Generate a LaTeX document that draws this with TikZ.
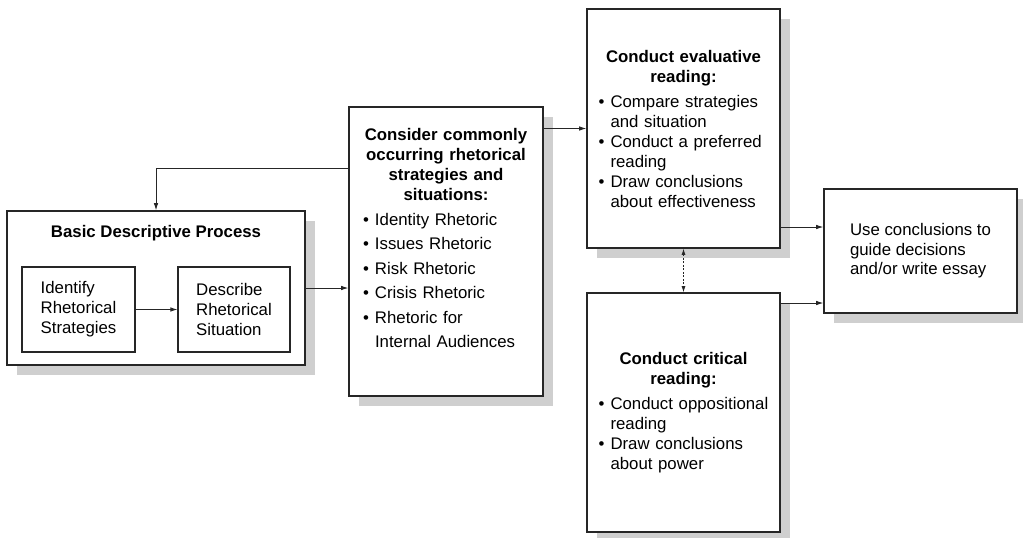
\documentclass[tikz,border=0pt]{standalone}
\usepackage{fontspec}
\setmainfont{Liberation Sans}
\usetikzlibrary{positioning, arrows.meta, shadows}

\newcommand{\bulletitem}[1]{\par\hangindent=12pt\hangafter=1\noindent\makebox[12pt][l]{\textbullet}#1\par}

\begin{document}
\begin{tikzpicture}[x=1pt, y=-1pt,
    bigbox/.style={draw=black!85, line width=1.6pt, fill=white, inner sep=0pt,
        general shadow={fill=black!19, shadow xshift=10pt, shadow yshift=-10pt},
        font=\fontsize{16.8}{20}\selectfont},
    smallbox/.style={draw=black!85, line width=1.2pt, fill=white, align=left,
        minimum width=113pt, minimum height=85pt, font=\fontsize{16.8}{20}\selectfont},
    arr/.style={-{Latex[length=7pt, width=4.5pt]}, line width=0.8pt, black!85},
    dblarr/.style={{Latex[length=6pt, width=4pt]}-{Latex[length=6pt, width=4pt]},
        line width=0.7pt, dash pattern=on 2pt off 1.5pt, black!85}
]
    \useasboundingbox (0,0) rectangle (1023,538);

    % Basic descriptive process
    \node[bigbox, minimum width=298pt, minimum height=154pt] (basic) at (156,288) {};
    \node[font=\fontsize{16.8}{20}\selectfont\bfseries] (basictitle) at (156,233) {Basic Descriptive Process};
    \node[smallbox] (identify) at (78.5,309.5) {Identify\\Rhetorical\\Strategies};
    \node[smallbox, minimum width=112pt] (describe) at (234,309.5) {Describe\\Rhetorical\\Situation};

    % Common strategies and situations
    \node[bigbox, minimum width=194pt, minimum height=289pt, text width=166pt, align=left] (consider) at (446,251.5) {%
        {\centering\bfseries Consider commonly\\occurring rhetorical\\strategies and\\situations:\par}
        \fontsize{16.8}{24.5}\selectfont
        \bulletitem{Identity Rhetoric}
        \bulletitem{Issues Rhetoric}
        \bulletitem{Risk Rhetoric}
        \bulletitem{Crisis Rhetoric}
        \bulletitem{Rhetoric for\newline Internal Audiences}
        \rule{0pt}{26pt}};

    % Evaluative and critical readings
    \node[bigbox, minimum width=193pt, minimum height=239pt, text width=170pt, align=left] (eval) at (683.5,128.5) {%
        {\centering\bfseries Conduct evaluative\\reading:\par}
        \vspace{5pt}
        \bulletitem{Compare strategies\newline and situation}
        \bulletitem{Conduct a preferred\newline reading}
        \bulletitem{Draw conclusions\newline about effectiveness}};
    \node[bigbox, minimum width=193pt, minimum height=239pt, text width=170pt, align=left] (critical) at (683.5,412.5) {%
        {\centering\bfseries Conduct critical\\reading:\par}
        \vspace{5pt}
        \bulletitem{Conduct oppositional\newline reading}
        \bulletitem{Draw conclusions\newline about power}};

    % Conclusions
    \node[bigbox, minimum width=193pt, minimum height=124pt, align=left,
        font=\fontsize{16.8}{19.5}\selectfont] (final) at (920.5,251) {Use conclusions to\\guide decisions\\and/or write essay};

    % Connectors
    \draw[arr] (identify) -- (describe);
    \draw[arr] (basic.east) -- (basic.east -| consider.west);
    \draw[arr] ([yshift=83.5pt]consider.west) -| (basic.north);
    \draw[arr] (eval.west -| consider.east) -- (eval.west);
    \draw[dblarr] (eval.south) -- (critical.north);
    \coordinate (intop) at ([yshift=24pt]final.west);
    \coordinate (inbot) at ([yshift=-52pt]final.west);
    \draw[arr] (intop -| eval.east) -- (intop);
    \draw[arr] (inbot -| critical.east) -- (inbot);
\end{tikzpicture}
\end{document}
